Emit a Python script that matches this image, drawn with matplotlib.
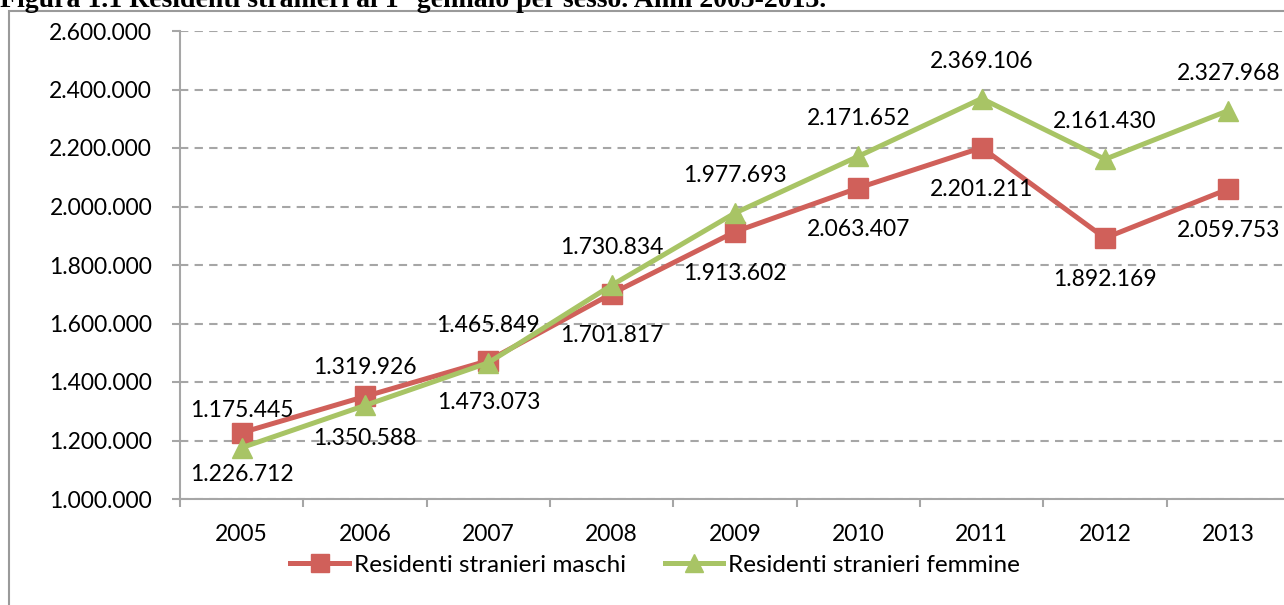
import matplotlib
matplotlib.use("Agg")
import matplotlib.pyplot as plt
from matplotlib.lines import Line2D
from matplotlib.patches import Rectangle
from matplotlib.ticker import FuncFormatter

# data
anni = ["2005", "2006", "2007", "2008", "2009", "2010", "2011", "2012", "2013"]
maschi = [1226712, 1350588, 1473073, 1701817, 1913602, 2063407, 2201211, 1892169, 2059753]
femmine = [1175445, 1319926, 1465849, 1730834, 1977693, 2171652, 2369106, 2161430, 2327968]
y_ticks = [1000000, 1200000, 1400000, 1600000, 1800000, 2000000, 2200000, 2400000, 2600000]

RED = "#D0605A"
GREEN = "#A8C465"
GRID = "#A6A6A6"
FONT = "Lato"
FS = 16.5


def it_fmt(v):
    return "{:,.0f}".format(v).replace(",", ".")


W, H = 1284, 605
fig = plt.figure(figsize=(W / 100, H / 100), dpi=100)
fig.patch.set_facecolor("white")

# chart frame (cut off on the right and bottom like the source)
fig.patches.append(Rectangle((9 / W, -0.1), 1.2, 1.1 - 11 / H, transform=fig.transFigure,
                             fill=False, edgecolor="#9A9A9A", linewidth=1.5))
# title, cut off at top
fig.text(0 / W, 1 - 7 / H, "Figura 1.1 Residenti stranieri al 1\u00b0 gennaio per sesso. Anni 2005-2013.",
         family="Liberation Serif", weight="bold", fontsize=20, ha="left", va="baseline")

left, right = 180 / W, 1290 / W
top, bottom = 1 - 31 / H, 1 - 499 / H
ax = fig.add_axes([left, bottom, right - left, top - bottom])
x = list(range(len(anni)))
ax.plot(x, maschi, color=RED, lw=3.6, marker="s", ms=14, mec=RED, zorder=3)
ax.plot(x, femmine, color=GREEN, lw=3.6, marker="^", ms=15, mec=GREEN, zorder=4)

for i in x:
    ax.annotate(it_fmt(femmine[i]), (i, femmine[i]), xytext=(0, 27), textcoords="offset points",
                ha="center", va="center", family=FONT, fontsize=FS)
    ax.annotate(it_fmt(maschi[i]), (i, maschi[i]), xytext=(0, -30), textcoords="offset points",
                ha="center", va="center", family=FONT, fontsize=FS)

ax.set_xlim(-0.5, len(anni) - 0.5)
ax.set_ylim(1000000, 2600000)
ax.set_yticks(y_ticks)
ax.yaxis.set_major_formatter(FuncFormatter(lambda v, p: it_fmt(v)))
ax.set_xticks(x)
ax.set_xticklabels(anni)
ax.set_xticks([i - 0.5 for i in range(len(anni) + 1)], minor=True)
ax.tick_params(axis="x", which="major", length=0, pad=18)
ax.tick_params(axis="x", which="minor", length=6, width=1.5, color=GRID)
ax.tick_params(axis="y", length=6, width=1.5, color=GRID, pad=14)
for lab in ax.get_xticklabels() + ax.get_yticklabels():
    lab.set_family(FONT)
    lab.set_fontsize(FS)
ax.grid(axis="y", color=GRID, lw=1.5, ls=(0, (4, 3)))
ax.set_axisbelow(True)
for s in ["top", "right"]:
    ax.spines[s].set_visible(False)
for s in ["left", "bottom"]:
    ax.spines[s].set_color(GRID)
    ax.spines[s].set_linewidth(1.5)

handles = [Line2D([], [], color=RED, lw=3.6, marker="s", ms=13),
           Line2D([], [], color=GREEN, lw=3.6, marker="^", ms=13)]
fig.legend(handles, ["Residenti stranieri maschi", "Residenti stranieri femmine"],
           loc="center", bbox_to_anchor=(655 / W, 1 - 565 / H), ncol=2, frameon=False,
           prop={"family": FONT, "size": 17.5}, handlelength=2.4, handletextpad=0.2,
           columnspacing=1.6)

fig.savefig("out.png", dpi=100)
